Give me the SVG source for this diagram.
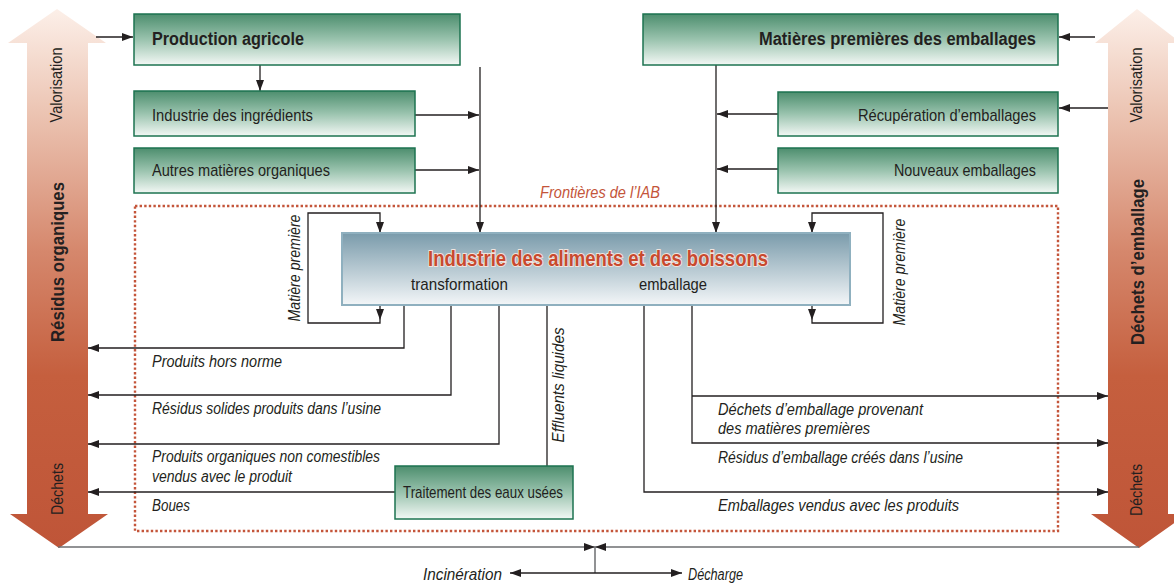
<svg xmlns="http://www.w3.org/2000/svg" width="1174" height="585" viewBox="0 0 1174 585">
<defs>
<linearGradient id="gArrow" x1="0" y1="10" x2="0" y2="548" gradientUnits="userSpaceOnUse">
<stop offset="0" stop-color="#fcefe8"/>
<stop offset="0.2" stop-color="#ebc2b0"/>
<stop offset="0.45" stop-color="#d5876c"/>
<stop offset="0.68" stop-color="#c55f3e"/>
<stop offset="1" stop-color="#bf5538"/>
</linearGradient>
<linearGradient id="gGreen" x1="0" y1="0" x2="0" y2="1">
<stop offset="0" stop-color="#4d8e6e"/>
<stop offset="0.5" stop-color="#9ac3ae"/>
<stop offset="1" stop-color="#f3f8f5"/>
</linearGradient>
<linearGradient id="gBlue" x1="0" y1="0" x2="0" y2="1">
<stop offset="0" stop-color="#7a9bab"/>
<stop offset="1" stop-color="#f3f6f8"/>
</linearGradient>
<marker id="ah" markerWidth="11" markerHeight="8" refX="11" refY="4" orient="auto" markerUnits="userSpaceOnUse">
<path d="M0,0 L11,4 L0,8 Z" fill="#231f20"/>
</marker>
<style>
.box{fill:url(#gGreen);stroke:#1d7350;stroke-width:1.5}
.t{font-family:"Liberation Sans",Arial,sans-serif;fill:#231f20}
.n{font-size:17px}
.b{font-size:18px;font-weight:bold}
.i{font-size:16px;font-style:italic}
.ln{fill:none;stroke:#231f20;stroke-width:1.3}
.gl{fill:none;stroke:#6d6e71;stroke-width:1.5}
.big{fill:url(#gArrow)}
</style>
</defs>

<g id="arrow-left">
<polygon class="big" points="57,9 106,43 88,43 88,514 108,514 59,548 10,514 27,514 27,43 8,43"/>
<text class="t n" transform="translate(62,85) rotate(-90)" x="-37.5" y="0" textLength="75" lengthAdjust="spacingAndGlyphs">Valorisation</text>
<text class="t b" transform="translate(64,262) rotate(-90)" x="-80" y="0" textLength="160" lengthAdjust="spacingAndGlyphs">Résidus organiques</text>
<text class="t n" transform="translate(63,489) rotate(-90)" x="-26" y="0" textLength="52" lengthAdjust="spacingAndGlyphs">Déchets</text>
</g>

<g id="arrow-right">
<polygon class="big" points="1137,9 1181,43 1168,43 1168,514 1187,514 1139,548 1091,514 1108,514 1108,43 1095,43"/>
<text class="t n" transform="translate(1142,85) rotate(-90)" x="-37.5" y="0" textLength="75" lengthAdjust="spacingAndGlyphs">Valorisation</text>
<text class="t b" transform="translate(1144,262) rotate(-90)" x="-83" y="0" textLength="166" lengthAdjust="spacingAndGlyphs">Déchets d’emballage</text>
<text class="t n" transform="translate(1142,490) rotate(-90)" x="-26" y="0" textLength="52" lengthAdjust="spacingAndGlyphs">Déchets</text>
</g>

<g id="frontier">
<rect x="135" y="206" width="923" height="325" fill="none" stroke="#c4553a" stroke-width="2.4" stroke-dasharray="2.4 2.2"/>
<text class="t i" x="540" y="198" textLength="120" lengthAdjust="spacingAndGlyphs" style="fill:#c4553a">Frontières de l’IAB</text>
</g>

<g id="connectors">
<path class="ln" d="M96,37 H133" marker-end="url(#ah)"/>
<path class="ln" d="M260,65 V91" marker-end="url(#ah)"/>
<path class="ln" d="M415,115 H479" marker-end="url(#ah)"/>
<path class="ln" d="M415,170 H479" marker-end="url(#ah)"/>
<path class="ln" d="M480,67 V233" marker-end="url(#ah)"/>
<path class="ln" d="M1095,37 H1059" marker-end="url(#ah)"/>
<path class="ln" d="M1108,108 H1059" marker-end="url(#ah)"/>
<path class="ln" d="M716,65 V233" marker-end="url(#ah)"/>
<path class="ln" d="M778,114 H717" marker-end="url(#ah)"/>
<path class="ln" d="M778,169 H717" marker-end="url(#ah)"/>
<path class="ln" d="M380,305 V320" marker-end="url(#ah)"/>
<path class="ln" d="M380,320 V323 H308 V213 H380 V233" marker-end="url(#ah)"/>
<path class="ln" d="M812,305 V320" marker-end="url(#ah)"/>
<path class="ln" d="M812,320 V323 H883 V213 H812 V233" marker-end="url(#ah)"/>
<path class="ln" d="M404,305 V348 H88" marker-end="url(#ah)"/>
<path class="ln" d="M451,305 V395 H88" marker-end="url(#ah)"/>
<path class="ln" d="M499,305 V444 H88" marker-end="url(#ah)"/>
<path class="ln" d="M547,305 V466"/>
<path class="ln" d="M395,492 H88" marker-end="url(#ah)"/>
<path class="ln" d="M692,305 V443 H1108" marker-end="url(#ah)"/>
<path class="ln" d="M692,396 H1108" marker-end="url(#ah)"/>
<path class="ln" d="M644,305 V492 H1108" marker-end="url(#ah)"/>
<path class="gl" d="M58,547 H595" marker-end="url(#ah)"/>
<path class="gl" d="M1139,547 H595" marker-end="url(#ah)"/>
<path class="gl" d="M595,547 V573"/>
<path class="ln" d="M595,573 H510" marker-end="url(#ah)"/>
<path class="ln" d="M595,573 H682" marker-end="url(#ah)"/>
</g>

<g id="production-agricole">
<rect class="box" x="134" y="14" width="326" height="51"/>
<text class="t b" x="152" y="45" textLength="152" lengthAdjust="spacingAndGlyphs">Production agricole</text>
</g>
<g id="industrie-ingredients">
<rect class="box" x="134" y="91" width="281" height="45"/>
<text class="t n" x="152" y="121" textLength="161" lengthAdjust="spacingAndGlyphs">Industrie des ingrédients</text>
</g>
<g id="autres-matieres">
<rect class="box" x="134" y="148" width="281" height="45"/>
<text class="t n" x="152" y="176" textLength="178" lengthAdjust="spacingAndGlyphs">Autres matières organiques</text>
</g>
<g id="matieres-emballages">
<rect class="box" x="643" y="14" width="415" height="51"/>
<text class="t b" x="759" y="45" textLength="277" lengthAdjust="spacingAndGlyphs">Matières premières des emballages</text>
</g>
<g id="recuperation">
<rect class="box" x="778" y="92" width="280" height="44"/>
<text class="t n" x="858" y="121" textLength="178" lengthAdjust="spacingAndGlyphs">Récupération d’emballages</text>
</g>
<g id="nouveaux">
<rect class="box" x="778" y="148" width="280" height="45"/>
<text class="t n" x="894" y="176" textLength="142" lengthAdjust="spacingAndGlyphs">Nouveaux emballages</text>
</g>
<g id="iab">
<rect x="342" y="233" width="508" height="72" fill="url(#gBlue)" stroke="#8fb0bf" stroke-width="2"/>
<text class="t" x="428" y="266" textLength="340" lengthAdjust="spacingAndGlyphs" style="font-size:22px;font-weight:bold;fill:#c8492e;stroke:#f1e4de;stroke-width:2;paint-order:stroke">Industrie des aliments et des boissons</text>
<text class="t n" x="411" y="290" textLength="97" lengthAdjust="spacingAndGlyphs">transformation</text>
<text class="t n" x="639" y="290" textLength="68" lengthAdjust="spacingAndGlyphs">emballage</text>
</g>
<g id="traitement">
<rect class="box" x="395" y="466" width="178" height="53"/>
<text class="t n" x="403" y="498" textLength="160" lengthAdjust="spacingAndGlyphs">Traitement des eaux usées</text>
</g>

<g id="labels">
<text class="t i" transform="translate(300,268) rotate(-90)" x="-53.5" y="0" textLength="107" lengthAdjust="spacingAndGlyphs">Matière première</text>
<text class="t i" transform="translate(905,272) rotate(-90)" x="-53.5" y="0" textLength="107" lengthAdjust="spacingAndGlyphs">Matière première</text>
<text class="t i" transform="translate(564,385) rotate(-90)" x="-57.5" y="0" textLength="115" lengthAdjust="spacingAndGlyphs">Effluents liquides</text>
<text class="t i" x="152" y="367" textLength="130" lengthAdjust="spacingAndGlyphs">Produits hors norme</text>
<text class="t i" x="152" y="414" textLength="229" lengthAdjust="spacingAndGlyphs">Résidus solides produits dans l’usine</text>
<text class="t i" x="152" y="462" textLength="228" lengthAdjust="spacingAndGlyphs">Produits organiques non comestibles</text>
<text class="t i" x="152" y="482" textLength="140" lengthAdjust="spacingAndGlyphs">vendus avec le produit</text>
<text class="t i" x="152" y="511" textLength="38" lengthAdjust="spacingAndGlyphs">Boues</text>
<text class="t i" x="718" y="415" textLength="205" lengthAdjust="spacingAndGlyphs">Déchets d’emballage provenant</text>
<text class="t i" x="718" y="434" textLength="152" lengthAdjust="spacingAndGlyphs">des matières premières</text>
<text class="t i" x="718" y="463" textLength="245" lengthAdjust="spacingAndGlyphs">Résidus d’emballage créés dans l’usine</text>
<text class="t i" x="718" y="511" textLength="241" lengthAdjust="spacingAndGlyphs">Emballages vendus avec les produits</text>
<text class="t i" x="423" y="580" textLength="79" lengthAdjust="spacingAndGlyphs">Incinération</text>
<text class="t i" x="688" y="580" textLength="55" lengthAdjust="spacingAndGlyphs">Décharge</text>
</g>
</svg>
